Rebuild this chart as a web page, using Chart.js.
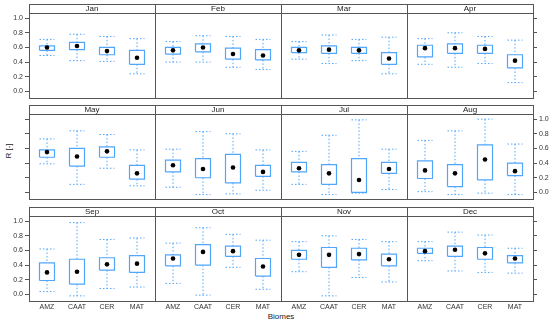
<!DOCTYPE html>
<html>
<head>
<meta charset="utf-8">
<script src="https://cdn.jsdelivr.net/npm/chart.js@4"></script>
<style>
    body { margin: 0; background: #fff; }
    #wrap { position: relative; width: 550px; height: 323px; overflow: hidden; font-family: "Liberation Sans", Arial, sans-serif; }
    #wrap canvas { position: absolute; }
    .axis-title { position: absolute; font-size: 8px; line-height: 10px; color: #222; text-align: center; }
    #ytitle { left: -6px; top: 146px; width: 30px; transform: rotate(-90deg); }
    #xtitle { left: 256px; top: 312px; width: 50px; }
</style>
</head>
<body>
<div id="wrap">
    <div class="axis-title" id="ytitle">R [-]</div>
    <div class="axis-title" id="xtitle">Biomes</div>
</div>
<script>
const months = ['Jan', 'Feb', 'Mar', 'Apr', 'May', 'Jun', 'Jul', 'Aug', 'Sep', 'Oct', 'Nov', 'Dec'];
const biomes = ['AMZ', 'CAAT', 'CER', 'MAT'];
const yTicks = [0, 0.2, 0.4, 0.6, 0.8, 1.0];

// one row per month, one value per biome
const whiskerLow = [
    [0.49, 0.42, 0.41, 0.24], [0.40, 0.40, 0.33, 0.30], [0.44, 0.38, 0.42, 0.24], [0.37, 0.33, 0.38, 0.12],
    [0.39, 0.11, 0.33, 0.09], [0.07, -0.03, -0.02, 0.03], [0.11, -0.03, -0.01, 0.04], [0.01, -0.03, -0.01, -0.03],
    [0.04, -0.02, 0.08, 0.10], [0.15, -0.01, 0.37, 0.07], [0.31, -0.02, 0.23, 0.17], [0.46, 0.32, 0.30, 0.29]
];
const boxLow = [
    [0.56, 0.57, 0.50, 0.37], [0.51, 0.54, 0.44, 0.43], [0.53, 0.52, 0.52, 0.37], [0.47, 0.52, 0.52, 0.32],
    [0.48, 0.36, 0.48, 0.18], [0.28, 0.20, 0.13, 0.22], [0.28, 0.11, 0.00, 0.26], [0.19, 0.08, 0.17, 0.23],
    [0.19, 0.14, 0.33, 0.30], [0.39, 0.40, 0.52, 0.25], [0.48, 0.37, 0.47, 0.39], [0.56, 0.52, 0.48, 0.43]
];
const medians = [
    [0.60, 0.62, 0.55, 0.46], [0.56, 0.60, 0.51, 0.49], [0.56, 0.57, 0.56, 0.45], [0.59, 0.59, 0.58, 0.42],
    [0.55, 0.49, 0.56, 0.26], [0.37, 0.32, 0.34, 0.28], [0.33, 0.26, 0.17, 0.32], [0.30, 0.26, 0.45, 0.29],
    [0.30, 0.31, 0.41, 0.42], [0.49, 0.58, 0.59, 0.38], [0.54, 0.54, 0.55, 0.48], [0.59, 0.61, 0.56, 0.49]
];
const boxHigh = [
    [0.62, 0.67, 0.60, 0.56], [0.60, 0.65, 0.59, 0.57], [0.60, 0.62, 0.60, 0.53], [0.63, 0.65, 0.63, 0.50],
    [0.58, 0.60, 0.62, 0.37], [0.44, 0.46, 0.52, 0.37], [0.41, 0.38, 0.46, 0.41], [0.43, 0.38, 0.65, 0.40],
    [0.43, 0.48, 0.50, 0.53], [0.54, 0.68, 0.66, 0.49], [0.60, 0.64, 0.63, 0.55], [0.63, 0.66, 0.64, 0.53]
];
const whiskerHigh = [
    [0.71, 0.78, 0.75, 0.72], [0.68, 0.76, 0.75, 0.71], [0.68, 0.77, 0.71, 0.74], [0.72, 0.80, 0.75, 0.70],
    [0.73, 0.84, 0.79, 0.58], [0.59, 0.83, 0.80, 0.58], [0.56, 0.78, 0.99, 0.59], [0.71, 0.84, 1.00, 0.66],
    [0.62, 0.98, 0.75, 0.77], [0.70, 0.91, 0.82, 0.74], [0.72, 0.80, 0.75, 0.72], [0.72, 0.85, 0.81, 0.63]
];

// layout of the 4 x 3 panel grid
const PANEL_LEFT = 29;
const PANEL_W = 126;
const PANEL_H = 85;
const ROW_TOPS = [13, 114, 216];
const STRIP_H = 9;
const M_SIDE = 29;
const M_TOP = 12;
const M_BOTTOM = 18;
const HALF = 0.25;   // half box width in category units
const FRAME = '#555';
const BOX_COLOR = '#4fa6fb';

// panel border and strip outline
const panelFrame = {
    id: 'panelFrame',
    afterDraw(chart) {
        const a = chart.chartArea;
        const ctx = chart.ctx;
        ctx.save();
        ctx.strokeStyle = FRAME;
        ctx.lineWidth = 1;
        ctx.strokeRect(a.left + 0.5, a.top + 0.5, a.right - a.left, a.bottom - a.top);
        ctx.strokeRect(a.left + 0.5, a.top - STRIP_H + 0.5, a.right - a.left, STRIP_H);
        ctx.restore();
    }
};

function boxPoints(m) {
    const pts = [];
    biomes.forEach((b, j) => {
        const x = j + 1;
        const lo = boxLow[m][j], hi = boxHigh[m][j];
        pts.push({x: x - HALF, y: lo}, {x: x + HALF, y: lo}, {x: x + HALF, y: hi},
                 {x: x - HALF, y: hi}, {x: x - HALF, y: lo}, {x: x, y: null});
    });
    return pts;
}

function whiskerPoints(m) {
    const pts = [];
    biomes.forEach((b, j) => {
        const x = j + 1;
        const wl = whiskerLow[m][j], wh = whiskerHigh[m][j];
        pts.push({x: x - HALF, y: wh}, {x: x + HALF, y: wh}, {x: x, y: null},
                 {x: x, y: wh}, {x: x, y: boxHigh[m][j]}, {x: x, y: null},
                 {x: x, y: boxLow[m][j]}, {x: x, y: wl}, {x: x, y: null},
                 {x: x - HALF, y: wl}, {x: x + HALF, y: wl}, {x: x, y: null});
    });
    return pts;
}

function yAxis(position, showTicks, showLabels) {
    return {
        type: 'linear',
        position: position,
        min: -0.09,
        max: 1.07,
        afterBuildTicks: s => { s.ticks = yTicks.map(v => ({value: v})); },
        afterFit: s => { s.width = M_SIDE; },
        grid: { drawOnChartArea: false, drawTicks: showTicks, display: showTicks, tickLength: 4, color: FRAME },
        border: { display: false },
        ticks: {
            color: showLabels ? '#333' : 'rgba(0,0,0,0)',
            padding: 2,
            font: { size: 7, family: '"Liberation Sans", Arial, sans-serif' },
            callback: v => v.toFixed(1)
        }
    };
}

function makePanel(m) {
    const row = Math.floor(m / 4);
    const col = m % 4;
    const canvas = document.createElement('canvas');
    canvas.width = PANEL_W + 2 * M_SIDE;
    canvas.height = PANEL_H + M_TOP + M_BOTTOM;
    canvas.style.left = (PANEL_LEFT + col * PANEL_W - M_SIDE) + 'px';
    canvas.style.top = (ROW_TOPS[row] - M_TOP) + 'px';
    document.getElementById('wrap').appendChild(canvas);

    new Chart(canvas.getContext('2d'), {
        type: 'line',
        data: {
            datasets: [
                {
                    data: biomes.map((b, j) => ({x: j + 1, y: medians[m][j]})),
                    showLine: false,
                    pointRadius: 2.3,
                    pointBackgroundColor: '#000',
                    pointBorderWidth: 0
                },
                {
                    data: boxPoints(m),
                    borderColor: BOX_COLOR,
                    borderWidth: 1.2,
                    pointRadius: 0,
                    spanGaps: false,
                    tension: 0
                },
                {
                    data: whiskerPoints(m),
                    borderColor: BOX_COLOR,
                    borderWidth: 1,
                    borderDash: [1.5, 2],
                    pointRadius: 0,
                    spanGaps: false,
                    tension: 0
                }
            ]
        },
        options: {
            responsive: false,
            animation: false,
            events: [],
            layout: { padding: 0 },
            plugins: {
                legend: { display: false },
                tooltip: { enabled: false },
                title: {
                    display: true,
                    text: months[m],
                    color: '#222',
                    font: { size: 8, weight: 'normal', lineHeight: '9px', family: '"Liberation Sans", Arial, sans-serif' },
                    padding: { top: 3, bottom: 0 }
                }
            },
            scales: {
                x: {
                    type: 'linear',
                    position: 'bottom',
                    min: 0.4,
                    max: 4.6,
                    afterBuildTicks: s => { s.ticks = biomes.map((b, j) => ({value: j + 1})); },
                    afterFit: s => { s.height = M_BOTTOM; },
                    grid: { drawOnChartArea: false, drawTicks: false },
                    border: { display: false },
                    ticks: {
                        display: row === 2,
                        autoSkip: false,
                        maxRotation: 0,
                        padding: 2,
                        color: '#333',
                        font: { size: 7, family: '"Liberation Sans", Arial, sans-serif' },
                        callback: v => biomes[v - 1]
                    }
                },
                y: yAxis('left', col === 0, col === 0 && row !== 1),
                y2: yAxis('right', col === 3, col === 3 && row === 1)
            }
        },
        plugins: [panelFrame]
    });
}

months.forEach((name, m) => makePanel(m));
</script>
</body>
</html>
